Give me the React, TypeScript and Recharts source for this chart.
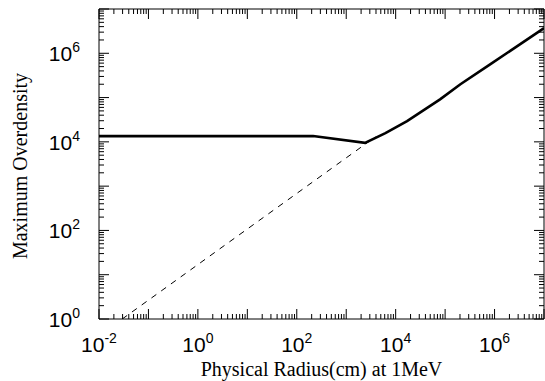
import React from 'react';
import { LineChart, Line, XAxis, YAxis } from 'recharts';

// solid curve (maximum overdensity vs physical radius)
const solidRadius = [0.01, 214, 2400, 6200, 17000, 79000, 204000, 813000, 1e7];
const solidOverdensity = [13500, 13500, 9500, 15800, 29500, 91000, 200000, 562000, 3.7e6];

// dashed asymptote
const dashedRadius = [0.0295, 3980];
const dashedOverdensity = [1, 13200];

// axis decades and labels
const xDecades = [-2, -1, 0, 1, 2, 3, 4, 5, 6, 7];
const yDecades = [0, 1, 2, 3, 4, 5, 6, 7];
const minorSteps = [2, 3, 4, 5, 6, 7, 8, 9];
const xLabelExps = [-2, 0, 2, 4, 6];
const yLabelExps = [0, 2, 4, 6];

const xTitle = 'Physical Radius(cm) at 1MeV';
const yTitle = 'Maximum Overdensity';

const buildTicks = (decades: number[]) =>
  decades.flatMap((d, i) =>
    i === decades.length - 1 ? [10 ** d] : [10 ** d, ...minorSteps.map((m) => m * 10 ** d)]
  );

const xTicks = buildTicks(xDecades);
const yTicks = buildTicks(yDecades);

const solidData = solidRadius.map((x, i) => ({ x, y: solidOverdensity[i] }));
const dashedData = dashedRadius.map((x, i) => ({ x, y: dashedOverdensity[i] }));

const W = 545;
const H = 381;
const sans = '"Liberation Sans", Arial, Helvetica, sans-serif';
const serif = '"Liberation Serif", "Times New Roman", Times, serif';

function tickInfo(v: number) {
  const lg = Math.log10(v);
  const e = Math.round(lg);
  return { major: Math.abs(lg - e) < 1e-9, e };
}

const XTick = (props: any) => {
  const { x, y, payload, side } = props;
  const { major, e } = tickInfo(payload.value);
  const len = major ? 10 : 5;
  const dir = side === 'top' ? 1 : -1;
  const showLabel = side === 'bottom' && major && xLabelExps.includes(e);
  return (
    <g>
      <line x1={x} y1={y} x2={x} y2={y + dir * len} stroke="#000" strokeWidth={1} />
      {showLabel && (
        <text x={x} y={y + 33} textAnchor="middle" fontFamily={sans} fontSize={21} fill="#000">
          <tspan>10</tspan>
          <tspan dy={-9.5} fontSize={14}>{e}</tspan>
        </text>
      )}
    </g>
  );
};

const YTick = (props: any) => {
  const { x, y, payload, side } = props;
  const { major, e } = tickInfo(payload.value);
  const len = major ? 10 : 5;
  const dir = side === 'left' ? 1 : -1;
  const showLabel = side === 'left' && major && yLabelExps.includes(e);
  return (
    <g>
      <line x1={x} y1={y} x2={x + dir * len} y2={y} stroke="#000" strokeWidth={1} />
      {showLabel && (
        <text x={x - 19} y={y + 8} textAnchor="end" fontFamily={sans} fontSize={21} fill="#000">
          <tspan>10</tspan>
          <tspan dy={-9} fontSize={14}>{e}</tspan>
        </text>
      )}
    </g>
  );
};

const axisLine = { stroke: '#000', strokeWidth: 1 };

export default function App() {
  return (
    <div style={{ position: 'absolute', left: 0, top: 0, width: W, height: H, background: '#fff' }}>
      <LineChart width={W} height={H} margin={{ top: 8, right: 0, bottom: 0, left: 0 }}>
        <XAxis
          xAxisId="b"
          dataKey="x"
          type="number"
          scale="log"
          domain={[0.01, 1e7]}
          allowDataOverflow
          ticks={xTicks}
          interval={0}
          height={62}
          tickSize={0}
          tickMargin={0}
          tickLine={false}
          axisLine={axisLine}
          tick={(p: any) => <XTick {...p} side="bottom" />}
        />
        <XAxis
          xAxisId="t"
          orientation="top"
          dataKey="x"
          type="number"
          scale="log"
          domain={[0.01, 1e7]}
          allowDataOverflow
          ticks={xTicks}
          interval={0}
          height={1}
          tickSize={0}
          tickMargin={0}
          tickLine={false}
          axisLine={axisLine}
          tick={(p: any) => <XTick {...p} side="top" />}
        />
        <YAxis
          yAxisId="l"
          type="number"
          scale="log"
          domain={[1, 1e7]}
          allowDataOverflow
          ticks={yTicks}
          interval={0}
          width={99}
          tickSize={0}
          tickMargin={0}
          tickLine={false}
          axisLine={axisLine}
          tick={(p: any) => <YTick {...p} side="left" />}
        />
        <YAxis
          yAxisId="r"
          orientation="right"
          type="number"
          scale="log"
          domain={[1, 1e7]}
          allowDataOverflow
          ticks={yTicks}
          interval={0}
          width={1}
          tickSize={0}
          tickMargin={0}
          tickLine={false}
          axisLine={axisLine}
          tick={(p: any) => <YTick {...p} side="right" />}
        />
        <Line
          xAxisId="t"
          yAxisId="r"
          data={solidData}
          dataKey="y"
          stroke="none"
          dot={false}
          activeDot={false}
          isAnimationActive={false}
        />
        <Line
          xAxisId="b"
          yAxisId="l"
          data={dashedData}
          dataKey="y"
          type="linear"
          stroke="#000"
          strokeWidth={1}
          strokeDasharray="6 6"
          dot={false}
          activeDot={false}
          isAnimationActive={false}
        />
        <Line
          xAxisId="b"
          yAxisId="l"
          data={solidData}
          dataKey="y"
          type="linear"
          stroke="#000"
          strokeWidth={2.6}
          dot={false}
          activeDot={false}
          isAnimationActive={false}
        />
      </LineChart>
      <svg
        width={W}
        height={H}
        style={{ position: 'absolute', left: 0, top: 0, pointerEvents: 'none' }}
      >
        <text x={321.5} y={376} textAnchor="middle" fontFamily={serif} fontSize={20} fill="#000">
          {xTitle}
        </text>
        <text
          x={0}
          y={0}
          transform="translate(27,166) rotate(-90)"
          textAnchor="middle"
          fontFamily={serif}
          fontSize={20}
          fill="#000"
        >
          {yTitle}
        </text>
      </svg>
    </div>
  );
}
